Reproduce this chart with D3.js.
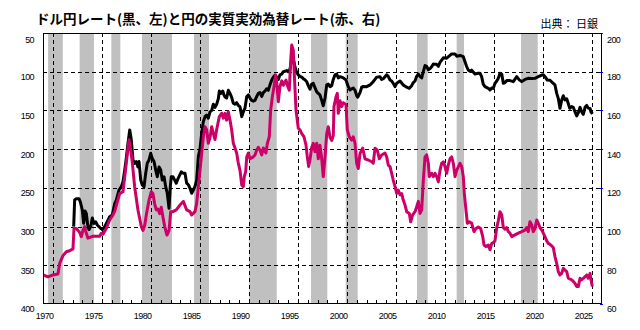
<!DOCTYPE html>
<html><head><meta charset="utf-8">
<script src="https://cdn.jsdelivr.net/npm/d3@7"></script>
<style>body{margin:0;background:#fff}</style>
</head><body><svg id="c" width="640" height="330"></svg>
<script>
// ---- data ----
const titleText = "ドル円レート(黒、左)と円の実質実効為替レート(赤、右)";
const sourceText = "出典： 日銀";
const yearLabels = [1970,1975,1980,1985,1990,1995,2000,2005,2010,2015,2020,2025];
const gridYears = [1971,1976,1981,1986,1991,1996,2001,2006,2011,2016,2021,2026];
const leftTicks = [50,100,150,200,250,300,350,400];
const rightTicks = [200,180,160,140,120,100,80,60];
const recessions = [[1970.5,1972.0],[1973.72,1975.18],[1976.95,1977.87],[1980.08,1983.14],[1985.39,1986.92],[1991.03,1993.83],[1997.33,1998.99],[2000.87,2002.09],[2008.14,2009.23],[2012.19,2012.94],[2018.76,2020.46]];

// USD/JPY (left axis, inverted)
const usdjpy = [
[1973.11,300],[1973.21,265.7],[1973.38,264],[1973.65,264],[1973.79,268],[1973.99,278.6],[1974.13,295.8],[1974.27,280],[1974.4,283],[1974.54,298],[1974.67,304],[1974.85,300],
[1975.01,289],[1975.18,296],[1975.36,294],[1975.52,298],[1975.69,300],[1975.83,302],[1976.03,304],[1976.17,302],[1976.28,300],[1976.44,296],[1976.61,291.6],[1976.78,287.3],
[1977.05,285],[1977.3,270],[1977.46,266],[1977.73,252.8],[1977.97,248.5],[1978.14,242],[1978.32,227],[1978.48,211.8],[1978.65,192.5],[1978.83,175.3],[1978.99,188],
[1979.16,214],[1979.33,218.3],[1979.5,216],[1979.67,223],[1979.78,216],[1979.95,239.8],[1980.11,246.3],[1980.29,248.5],[1980.46,231],[1980.62,218.3],[1980.8,214],[1980.97,205.4],
[1981.13,212],[1981.31,216],[1981.48,227],[1981.64,235.6],[1981.82,223],[1981.99,227],[1982.15,239.8],[1982.33,235.6],[1982.5,248.5],[1982.66,257],[1982.84,276.4],[1982.97,248.5],
[1983.07,235.6],[1983.24,235.6],[1983.42,240],[1983.58,244],[1983.76,238],[1983.93,233.5],[1984.09,229.3],[1984.27,231],[1984.47,231],[1984.64,244],[1984.81,246],[1984.98,250.6],
[1985.15,257],[1985.32,252.8],[1985.49,248],[1985.66,240],[1985.83,209.7],[1986.0,200],[1986.17,179.6],[1986.34,164.5],[1986.51,158],[1986.68,156],[1986.85,160],[1987.02,152],
[1987.19,150],[1987.36,142],[1987.53,146],[1987.7,142],[1987.87,135],[1987.97,125],[1988.11,128],[1988.32,125],[1988.45,130],[1988.58,133],[1988.72,134],[1988.89,124],
[1989.06,128],[1989.23,133],[1989.4,140.8],[1989.57,142],[1989.74,140],[1989.91,143.5],[1990.08,145.2],[1990.26,158],[1990.42,152],[1990.59,147],[1990.77,132],[1990.93,130],
[1991.1,134],[1991.27,137],[1991.44,138],[1991.61,137],[1991.79,132],[1991.95,128],[1992.12,127],[1992.3,132],[1992.46,127],[1992.63,125],[1992.81,122],[1992.97,124],
[1993.14,117],[1993.31,111],[1993.48,107],[1993.65,104.5],[1993.82,107],[1993.99,110],[1994.16,104],[1994.34,103],[1994.5,100],[1994.67,99.5],[1994.85,98.5],[1995.01,100],
[1995.18,97],[1995.36,84],[1995.46,84.5],[1995.59,87],[1995.69,94],[1995.87,101],[1996.03,104],[1996.2,106],[1996.38,107],[1996.54,109],[1996.71,110.5],[1996.89,113],
[1997.05,118],[1997.22,122.5],[1997.4,116],[1997.56,115],[1997.73,120.5],[1997.91,126],[1998.07,128],[1998.24,130],[1998.42,137],[1998.58,144],[1998.76,134],[1998.93,117],
[1999.09,116],[1999.27,119.3],[1999.44,118],[1999.6,110],[1999.78,104],[1999.95,103],[2000.11,108],[2000.29,106.4],[2000.62,108],[2000.9,110.7],[2001.13,119.3],[2001.31,123.6],
[2001.48,122],[2001.64,121],[2001.82,124],[2001.99,131],[2002.09,133],[2002.33,127],[2002.5,120],[2002.66,119],[2003.01,119.3],[2003.35,117.1],[2003.68,112.8],[2004.03,107],
[2004.37,106.4],[2004.54,110],[2004.7,109],[2005.05,104],[2005.21,106],[2005.39,110.7],[2005.56,112],[2005.72,115],[2005.9,119.3],[2006.07,115],[2006.41,112],[2006.74,117.1],
[2007.09,120],[2007.36,121.4],[2007.6,118],[2007.77,114],[2007.94,112],[2008.11,106],[2008.28,103],[2008.45,106],[2008.62,108],[2008.79,100],[2008.96,92],[2009.13,93],
[2009.3,97.5],[2009.47,96],[2009.64,93.5],[2009.81,90],[2009.98,90.5],[2010.15,90.5],[2010.32,93],[2010.49,88],[2010.66,85],[2010.83,82],[2011.17,82.5],[2011.51,79],
[2011.68,77],[2012.02,77],[2012.19,80],[2012.53,79],[2012.87,80.6],[2013.04,87],[2013.2,93],[2013.37,97.8],[2013.55,99.5],[2013.72,98],[2014.06,103],[2014.4,102],
[2014.57,102],[2014.74,106.4],[2014.9,116],[2015.08,119.3],[2015.42,121.4],[2015.59,123.6],[2015.77,121],[2015.93,121.5],[2016.1,115],[2016.28,112],[2016.44,108.5],[2016.61,102],
[2016.79,103],[2016.95,115],[2017.12,114],[2017.3,111.5],[2017.63,111.5],[2017.97,112.8],[2018.32,106.4],[2018.58,110.5],[2018.83,112.8],[2019.16,110],[2019.5,108.5],[2019.85,108.8],
[2020.18,108.5],[2020.52,106.4],[2020.87,104.3],[2021.03,104],[2021.2,106.5],[2021.44,110.7],[2021.71,111],[2021.99,114.5],[2022.22,117.1],[2022.4,128],[2022.56,134.4],[2022.73,147.3],
[2022.91,136.5],[2023.07,131],[2023.24,136.5],[2023.42,135],[2023.58,141],[2023.73,147.3],[2023.93,145],[2024.09,146],[2024.26,151.6],[2024.44,157],[2024.6,153],[2024.78,146],
[2024.95,152],[2025.11,155],[2025.29,146],[2025.46,143.5],[2025.62,147],[2025.8,147.5],[2025.9,152],[2026.05,154.5]
];

// Real effective exchange rate of the yen (right axis)
const reer = [
[1970.0,75],[1970.49,74],[1971.0,75],[1971.51,75.5],[1971.68,81],[1972.02,85],[1972.36,87],[1972.7,87.5],[1973.04,88.5],[1973.14,99],[1973.38,99],[1973.72,97],
[1973.89,94.8],[1974.06,98],[1974.23,100],[1974.4,96.5],[1974.57,94],[1975.08,95],[1975.76,95],[1975.93,96.5],[1976.1,96],[1976.44,99],[1976.78,103.4],[1977.12,106],
[1977.3,108],[1977.46,111],[1977.8,117],[1978.14,118],[1978.32,125.8],[1978.48,132.8],[1978.65,140.6],[1978.76,144.8],[1978.89,141],[1979.1,132.8],[1979.33,120.6],[1979.67,108.6],
[1980.01,100],[1980.18,98],[1980.36,100.7],[1980.52,106],[1980.8,113.7],[1981.03,118],[1981.2,117],[1981.38,111.6],[1981.54,108.6],[1981.71,109],[1981.89,106.7],[1982.05,110],
[1982.22,105],[1982.4,100],[1982.63,95.6],[1982.84,98],[1983.01,107.7],[1983.24,107.7],[1983.58,108.6],[1983.93,111],[1984.3,113],[1984.64,108.6],[1984.98,107.7],[1985.15,106],
[1985.49,107.7],[1985.66,112],[1985.83,120.6],[1986.0,129],[1986.17,137.8],[1986.34,146.4],[1986.51,151.6],[1986.68,150],[1986.85,143],[1987.02,146],[1987.19,151.6],[1987.36,148],
[1987.53,145],[1987.7,150],[1987.97,156.8],[1988.21,158.5],[1988.38,156],[1988.55,158.5],[1988.72,155],[1988.89,159.3],[1989.06,155],[1989.23,150],[1989.4,143],[1989.57,140.6],
[1989.74,138],[1989.91,132.8],[1990.08,129],[1990.26,121.5],[1990.42,120.6],[1990.52,125.8],[1990.66,128.4],[1990.77,136],[1990.93,138],[1991.1,135],[1991.44,136],[1991.61,137],
[1991.79,139.5],[1991.95,141],[1992.12,139.5],[1992.3,137],[1992.46,140.6],[1992.73,138],[1992.87,143],[1993.07,146.4],[1993.21,160],[1993.38,167],[1993.55,172.3],[1993.72,178.3],
[1993.83,174.5],[1993.99,164.5],[1994.16,172.3],[1994.34,175.3],[1994.5,173],[1994.78,175.7],[1994.91,173],[1995.11,170.4],[1995.26,186],[1995.36,193.8],[1995.52,191],[1995.62,179],
[1995.8,160],[1996.03,150.8],[1996.2,150],[1996.38,148],[1996.61,146.4],[1996.82,142],[1996.95,136],[1997.09,131],[1997.22,134.4],[1997.4,141],[1997.56,143],[1997.73,138.7],
[1997.91,143],[1998.07,135],[1998.24,142],[1998.42,135],[1998.58,125.8],[1998.76,136],[1998.93,148],[1999.09,151.6],[1999.27,146],[1999.44,144.5],[1999.6,147],[1999.67,162],
[1999.88,167],[2000.01,168.8],[2000.11,158.5],[2000.29,165],[2000.46,162],[2000.62,164],[2000.9,163],[2001.03,150],[2001.23,146.4],[2001.48,144.7],[2001.64,146.4],[2001.82,143],
[2001.99,132.7],[2002.15,130],[2002.33,137.8],[2002.6,140.5],[2002.84,135],[2003.17,134.4],[2003.52,133.5],[2003.68,132.7],[2003.86,140.5],[2004.09,139.5],[2004.3,135],[2004.54,137],
[2004.88,138],[2005.05,136],[2005.21,131.8],[2005.39,131],[2005.56,127.5],[2005.72,124],[2005.9,120.6],[2006.07,117.2],[2006.23,118.9],[2006.41,116.4],[2006.58,117],[2006.74,113.7],
[2006.92,111.2],[2007.09,107.7],[2007.36,106.8],[2007.5,102.5],[2007.7,106],[2007.94,107.7],[2008.11,110.3],[2008.28,113],[2008.45,106.8],[2008.62,108.6],[2008.79,124],[2008.96,136],
[2009.13,137],[2009.3,132.7],[2009.4,125.8],[2009.64,127.5],[2009.81,125.8],[2009.98,127.5],[2010.15,125.8],[2010.32,123.1],[2010.49,129],[2010.66,132.7],[2010.83,133.5],[2011.0,131],
[2011.17,127.5],[2011.34,131.8],[2011.51,135],[2011.68,136],[2011.85,132.7],[2012.02,125.8],[2012.19,129],[2012.53,132.7],[2012.7,131],[2012.87,125.8],[2012.97,117.2],[2013.14,108.6],
[2013.28,101.7],[2013.48,102.5],[2013.72,101.7],[2013.96,97.4],[2014.16,99],[2014.4,99.8],[2014.64,99],[2014.85,94.8],[2014.98,90.5],[2015.18,89.7],[2015.42,90.5],[2015.59,88],
[2015.77,91.3],[2015.93,91.7],[2016.1,92.6],[2016.28,99.5],[2016.44,103],[2016.61,107.7],[2016.79,106],[2016.95,99.5],[2017.12,98.6],[2017.3,99.5],[2017.46,97.4],[2017.63,96.6],
[2017.81,94.8],[2018.14,95.7],[2018.48,96.6],[2018.83,97.4],[2019.16,98.2],[2019.34,99.5],[2019.5,97.4],[2019.67,102.5],[2019.85,100.8],[2020.01,97.4],[2020.18,99],[2020.36,103.4],
[2020.52,101.7],[2020.69,99.5],[2020.87,98.2],[2021.03,96.6],[2021.2,94.8],[2021.38,92.6],[2021.54,91.3],[2021.71,90.8],[2021.89,90],[2022.05,89.2],[2022.22,84.5],[2022.4,81],
[2022.56,76.7],[2022.73,75],[2022.91,75.8],[2023.07,78.4],[2023.24,77.5],[2023.42,76.7],[2023.58,73.3],[2023.93,72.5],[2024.26,70.7],[2024.44,69],[2024.6,69],[2024.78,73.3],
[2024.95,72.5],[2025.11,73.3],[2025.29,74.1],[2025.46,75],[2025.62,73.3],[2025.8,75.8],[2025.9,72.5],[2026.03,69]
];

// ---- drawing ----
const svg = d3.select("#c");
const L = 43, R = 602, T = 33, B = 304;
const x = d3.scaleLinear().domain([1970, 2027]).range([43.2, 601.8]);
const yL = d3.scaleLinear().domain([50, 400]).range([T, B]);
const yR = d3.scaleLinear().domain([200, 60]).range([T, B]);

svg.append("rect").attr("width", 640).attr("height", 330).attr("fill", "#fff");

svg.append("defs").append("clipPath").attr("id", "clip")
  .append("rect").attr("x", L).attr("y", T).attr("width", R - L).attr("height", B - T);

// recession shading
svg.append("g").selectAll("rect").data(recessions).join("rect")
  .attr("x", d => x(d[0])).attr("y", T)
  .attr("width", d => x(d[1]) - x(d[0])).attr("height", B - T)
  .attr("fill", "#c0c0c0");

// grid
const grid = svg.append("g").attr("stroke", "#000").attr("stroke-width", 1)
  .attr("stroke-dasharray", "4,3").attr("shape-rendering", "crispEdges");
grid.selectAll("line.h").data(leftTicks.filter(v => v > 50 && v < 400)).join("line")
  .attr("class", "h").attr("x1", L).attr("x2", R)
  .attr("y1", d => Math.round(yL(d)) + 0.5).attr("y2", d => Math.round(yL(d)) + 0.5);
grid.selectAll("line.v").data(gridYears).join("line")
  .attr("class", "v").attr("y1", T).attr("y2", B)
  .attr("x1", d => Math.round(x(d)) + 0.5).attr("x2", d => Math.round(x(d)) + 0.5);

// year ticks on bottom axis
const yrs = d3.range(1970, 2027);
svg.append("g").attr("stroke", "#000").attr("shape-rendering", "crispEdges")
  .selectAll("line").data(yrs).join("line")
  .attr("x1", d => Math.round(x(d)) + 0.5).attr("x2", d => Math.round(x(d)) + 0.5)
  .attr("y1", B - 4).attr("y2", B);

// right axis blue ticks
svg.append("g").attr("stroke", "#0000ff").attr("shape-rendering", "crispEdges")
  .selectAll("line").data(rightTicks).join("line")
  .attr("x1", R - 2).attr("x2", R + 1)
  .attr("y1", d => Math.round(yR(d)) + 0.5).attr("y2", d => Math.round(yR(d)) + 0.5);

// lines
const lineL = d3.line().x(d => x(d[0])).y(d => yL(d[1]));
const lineR = d3.line().x(d => x(d[0])).y(d => yR(d[1]));
const g = svg.append("g").attr("clip-path", "url(#clip)");
g.append("path").datum(usdjpy).attr("d", lineL).attr("fill", "none")
  .attr("stroke", "#000").attr("stroke-width", 3).attr("stroke-linejoin", "round");
g.append("path").datum(reer).attr("d", lineR).attr("fill", "none")
  .attr("stroke", "#cc0066").attr("stroke-width", 3).attr("stroke-linejoin", "round");

// frame
svg.append("rect").attr("x", L + 0.5).attr("y", T + 0.5)
  .attr("width", R - L - 1).attr("height", B - T - 1)
  .attr("fill", "none").attr("stroke", "#000").attr("shape-rendering", "crispEdges");

// axis labels
const lab = { "font-family": "'Liberation Sans', Arial, sans-serif", "font-size": "9px", "letter-spacing": "-0.6px" };
const lg = svg.append("g");
Object.entries(lab).forEach(([k, v]) => lg.attr(k, v));
lg.selectAll("text.l").data(leftTicks).join("text").attr("class", "l")
  .attr("x", 34).attr("y", (d, i) => yL(d) + (i === 0 ? 8 : 6))
  .attr("text-anchor", "end").attr("dominant-baseline", "middle").text(d => d);
lg.selectAll("text.r").data(rightTicks).join("text").attr("class", "r")
  .attr("x", 607).attr("y", (d, i) => yR(d) + (i === 0 ? 8 : 6))
  .attr("dominant-baseline", "middle").text(d => d);
lg.selectAll("text.b").data(yearLabels).join("text").attr("class", "b")
  .attr("x", d => x(d + 0.15)).attr("y", 319)
  .attr("text-anchor", "middle").text(d => d);

// title & source
svg.append("text").attr("x", 36).attr("y", 24)
  .attr("font-family", "'Noto Sans CJK JP', sans-serif").attr("font-size", "13.5px")
  .attr("font-weight", "bold").attr("fill", "#000").text(titleText);
svg.append("text").attr("x", 598).attr("y", 28).attr("text-anchor", "end")
  .attr("font-family", "'Noto Sans CJK JP', sans-serif").attr("font-size", "11px")
  .attr("fill", "#000").text(sourceText);
</script></body></html>
